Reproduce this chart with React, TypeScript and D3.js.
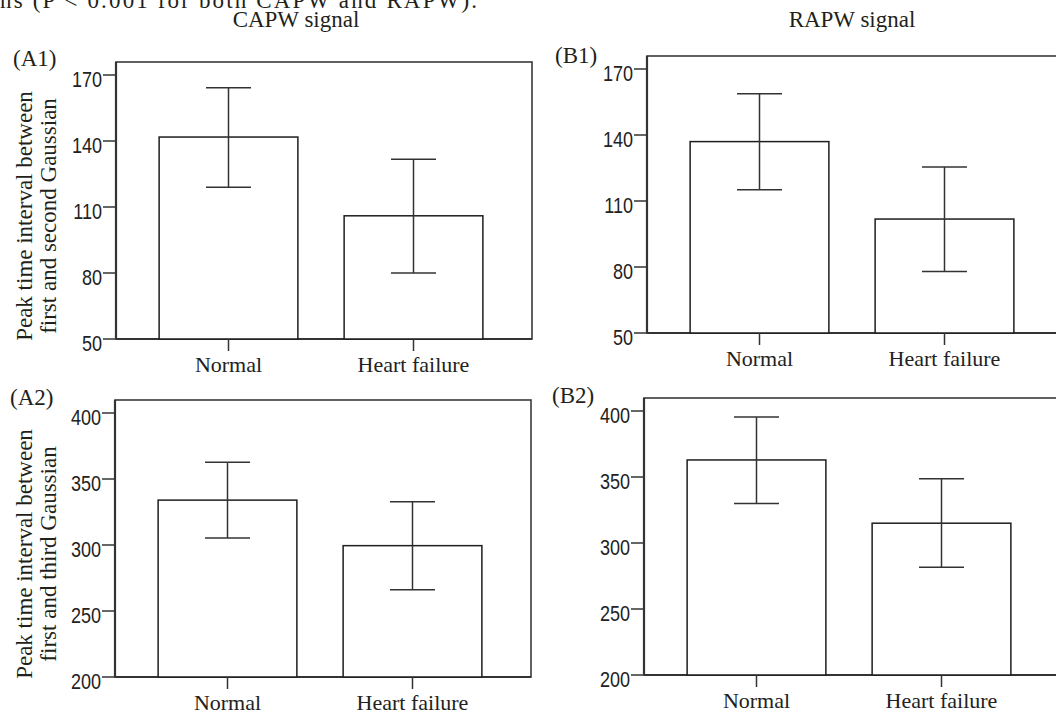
import * as d3 from "d3";

// group labels shared by every panel
const groups = ["Normal", "Heart failure"];

// A1: CAPW, first -> second Gaussian
const a1Mean = [141.8, 106];
const a1Low = [119, 80];
const a1High = [164.2, 131.7];
const a1Ticks = [50, 80, 110, 140, 170];

// B1: RAPW, first -> second Gaussian
const b1Mean = [137, 101.8];
const b1Low = [115.1, 78];
const b1High = [158.8, 125.5];
const b1Ticks = [50, 80, 110, 140, 170];

// A2: CAPW, first -> third Gaussian
const a2Mean = [334, 299.5];
const a2Low = [305.3, 266.1];
const a2High = [362.6, 332.8];
const a2Ticks = [200, 250, 300, 350, 400];

// B2: RAPW, first -> third Gaussian
const b2Mean = [362.9, 315];
const b2Low = [330, 281.7];
const b2High = [395.4, 348.7];
const b2Ticks = [200, 250, 300, 350, 400];

const SERIF = "'Liberation Serif', 'Times New Roman', serif";
const SANS = "'Liberation Sans', Arial, sans-serif";
const INK = "#231f1a";

type PanelProps = {
  left: number;
  bottom: number;
  tag: string;
  tagX: number;
  tagY: number;
  mean: number[];
  low: number[];
  high: number[];
  ticks: number[];
  yLabel?: string[];
};

const Panel = ({ left, bottom, tag, tagX, tagY, mean, low, high, ticks, yLabel }: PanelProps) => {
  const frameW = 416;
  const frameH = 277;
  const y = d3
    .scaleLinear()
    .domain([ticks[0], ticks[ticks.length - 1]])
    .range([bottom, bottom - 264]);
  const x = d3
    .scaleBand<string>()
    .domain(groups)
    .range([left + 20, left + 390])
    .paddingInner(0.25)
    .paddingOuter(0.125);
  const bw = x.bandwidth();
  const cap = 22.5;

  return (
    <g>
      <text x={tagX} y={tagY} fontFamily={SERIF} fontSize={23} fill={INK}>
        {tag}
      </text>

      {yLabel &&
        yLabel.map((line, i) => (
          <text
            key={line}
            transform={`translate(${32 + i * 24},${bottom - 123}) rotate(-90)`}
            textAnchor="middle"
            fontFamily={SERIF}
            fontSize={23}
            fill={INK}
          >
            {line}
          </text>
        ))}

      {/* frame */}
      <rect
        x={left}
        y={bottom - frameH}
        width={frameW}
        height={frameH}
        fill="none"
        stroke="#3a3a3a"
        strokeWidth={1.6}
      />
      <line x1={left} x2={left} y1={bottom - frameH} y2={bottom} stroke="#333" strokeWidth={2.2} />
      <line x1={left} x2={left + frameW} y1={bottom} y2={bottom} stroke="#333" strokeWidth={2.2} />

      {/* y ticks */}
      {ticks.map((t) => (
        <g key={t}>
          <line x1={left - 13} x2={left} y1={y(t)} y2={y(t)} stroke="#333" strokeWidth={1.5} />
          <text
            transform={`translate(${left - 14},${y(t) + 12}) scale(0.82,1)`}
            textAnchor="end"
            fontFamily={SANS}
            fontSize={22}
            fill="#222"
          >
            {t}
          </text>
        </g>
      ))}

      {/* bars */}
      {groups.map((g, i) => {
        const cx = (x(g) as number) + bw / 2;
        return (
          <g key={g}>
            <rect
              x={x(g)}
              y={y(mean[i])}
              width={bw}
              height={bottom - y(mean[i])}
              fill="#fff"
              stroke="#1e1e1e"
              strokeWidth={1.5}
            />
            <line x1={cx} x2={cx} y1={y(high[i])} y2={y(low[i])} stroke="#333" strokeWidth={1.5} />
            <line x1={cx - cap} x2={cx + cap} y1={y(high[i])} y2={y(high[i])} stroke="#333" strokeWidth={1.5} />
            <line x1={cx - cap} x2={cx + cap} y1={y(low[i])} y2={y(low[i])} stroke="#333" strokeWidth={1.5} />
            <line x1={cx} x2={cx} y1={bottom} y2={bottom + 12} stroke="#333" strokeWidth={1.5} />
            <text x={cx} y={bottom + 33} textAnchor="middle" fontFamily={SERIF} fontSize={22} fill="#222">
              {g}
            </text>
          </g>
        );
      })}
    </g>
  );
};

export default function App() {
  return (
    <svg
      width={1056}
      height={713}
      style={{ position: "absolute", left: 0, top: 0, background: "#fff" }}
    >
      <text x={0} y={8} fontFamily={SERIF} fontSize={23} fill={INK} textLength={477} lengthAdjust="spacing">
        ns (P &lt; 0.001 for both CAPW and RAPW).
      </text>
      <text x={296} y={27} textAnchor="middle" fontFamily={SERIF} fontSize={23} fill={INK}>
        CAPW signal
      </text>
      <text x={852} y={27} textAnchor="middle" fontFamily={SERIF} fontSize={23} fill={INK}>
        RAPW signal
      </text>

      <Panel
        left={116}
        bottom={339}
        tag="(A1)"
        tagX={13}
        tagY={66}
        mean={a1Mean}
        low={a1Low}
        high={a1High}
        ticks={a1Ticks}
        yLabel={["Peak time interval between", "first and second Gaussian"]}
      />
      <Panel
        left={647}
        bottom={333}
        tag="(B1)"
        tagX={555}
        tagY={63}
        mean={b1Mean}
        low={b1Low}
        high={b1High}
        ticks={b1Ticks}
      />
      <Panel
        left={115}
        bottom={677}
        tag="(A2)"
        tagX={10}
        tagY={405}
        mean={a2Mean}
        low={a2Low}
        high={a2High}
        ticks={a2Ticks}
        yLabel={["Peak time interval between", "first and third Gaussian"]}
      />
      <Panel
        left={644}
        bottom={675}
        tag="(B2)"
        tagX={552}
        tagY={403}
        mean={b2Mean}
        low={b2Low}
        high={b2High}
        ticks={b2Ticks}
      />
    </svg>
  );
}
